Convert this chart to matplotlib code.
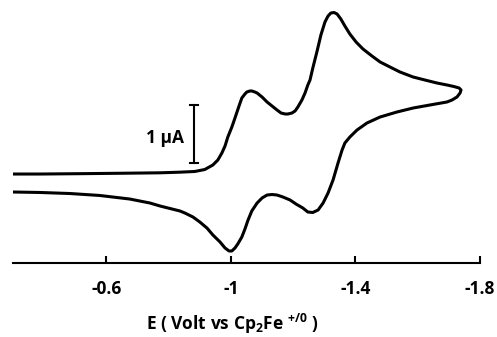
import numpy as np
import matplotlib
matplotlib.use("Agg")
import matplotlib.pyplot as plt

plt.rcParams['font.family'] = ['Open Sans', 'DejaVu Sans']
plt.rcParams['mathtext.fontset'] = 'custom'
plt.rcParams['mathtext.bf'] = 'Open Sans:bold'
plt.rcParams['mathtext.rm'] = 'Open Sans:bold'

# cyclic voltammogram: potential (V) and current (uA)
# forward (cathodic) scan
fwd_E = [-0.300, -0.386, -0.515, -0.643, -0.772, -0.836, -0.884, -0.916, -0.942,
         -0.958, -0.971, -0.981, -0.990, -1.003, -1.013, -1.026, -1.035, -1.045,
         -1.051, -1.061, -1.067, -1.077, -1.084, -1.100, -1.116, -1.132, -1.148,
         -1.161, -1.174, -1.183, -1.196, -1.206, -1.215, -1.228, -1.238, -1.247,
         -1.254, -1.263, -1.276, -1.289, -1.302, -1.312, -1.321, -1.331, -1.341,
         -1.353, -1.366, -1.382, -1.402, -1.424, -1.453, -1.479, -1.511, -1.543,
         -1.585, -1.623, -1.662, -1.694, -1.716, -1.733, -1.739]
fwd_i = [1.534, 1.534, 1.540, 1.547, 1.555, 1.566, 1.578, 1.612, 1.690, 1.776,
         1.897, 2.017, 2.172, 2.345, 2.500, 2.707, 2.845, 2.914, 2.948, 2.966,
         2.966, 2.948, 2.931, 2.862, 2.776, 2.707, 2.638, 2.586, 2.569, 2.569,
         2.586, 2.621, 2.690, 2.810, 2.931, 3.069, 3.155, 3.362, 3.638, 3.931,
         4.155, 4.259, 4.310, 4.319, 4.293, 4.207, 4.086, 3.948, 3.810, 3.690,
         3.569, 3.466, 3.379, 3.293, 3.207, 3.155, 3.103, 3.069, 3.043, 3.017,
         2.983]
# reverse (anodic) scan
rev_E = [-1.736, -1.726, -1.710, -1.694, -1.639, -1.585, -1.533, -1.479, -1.437,
         -1.405, -1.382, -1.366, -1.357, -1.344, -1.328, -1.312, -1.296, -1.280,
         -1.263, -1.247, -1.231, -1.209, -1.190, -1.167, -1.148, -1.132, -1.116,
         -1.100, -1.084, -1.067, -1.055, -1.045, -1.035, -1.022, -1.013, -1.003,
         -0.994, -0.981, -0.965, -0.942, -0.923, -0.900, -0.878, -0.852, -0.836,
         -0.804, -0.772, -0.740, -0.675, -0.579, -0.483, -0.386, -0.300]
rev_i = [2.931, 2.862, 2.810, 2.776, 2.724, 2.672, 2.603, 2.517, 2.414, 2.293,
         2.172, 2.069, 1.948, 1.724, 1.431, 1.207, 1.034, 0.914, 0.871, 0.879,
         0.948, 1.017, 1.086, 1.138, 1.172, 1.181, 1.172, 1.121, 1.034, 0.897,
         0.741, 0.586, 0.448, 0.328, 0.259, 0.207, 0.207, 0.259, 0.362, 0.483,
         0.603, 0.707, 0.793, 0.862, 0.897, 0.940, 0.983, 1.034, 1.103, 1.164,
         1.198, 1.216, 1.224]

tick_pos = [-0.6, -1.0, -1.4, -1.8]
tick_lab = ['-0.6', '-1', '-1.4', '-1.8']

fig = plt.figure(figsize=(4.97, 3.37), dpi=100)
ax = fig.add_axes([13 / 497, 1 - 263 / 337, 467 / 497, 258 / 337])

ax.plot(fwd_E + rev_E, fwd_i + rev_i, color='black', lw=2.2,
        solid_joinstyle='round', solid_capstyle='round')

ax.set_xlim(-0.3, -1.8)
ax.set_ylim(0, 258 / 58)
ax.set_xticks(tick_pos)
ax.set_xticklabels(tick_lab, fontweight='bold', fontsize=12.5)
ax.tick_params(axis='x', direction='in', length=5, width=1.5, pad=12)
ax.set_yticks([])
for side in ['top', 'right', 'left']:
    ax.spines[side].set_visible(False)
ax.spines['bottom'].set_linewidth(1.5)

# 1 uA scale bar
bar_x = -0.881
bar_lo = 1.724
ax.plot([bar_x, bar_x], [bar_lo, bar_lo + 1.0], color='black', lw=1.5)
ax.plot([bar_x - 0.013, bar_x + 0.013], [bar_lo, bar_lo], color='black', lw=1.5)
ax.plot([bar_x - 0.013, bar_x + 0.013], [bar_lo + 1, bar_lo + 1], color='black', lw=1.5)
ax.text(-0.849, 2.069, '1 \u03bcA', ha='right', va='baseline',
        fontsize=12.5, fontweight='bold')

fig.text(232 / 497, 1 - 330 / 337, r'E ( Volt vs Cp$_\mathbf{2}$Fe $^{\mathbf{+/0}}$ )',
         ha='center', va='baseline', fontsize=12.5, fontweight='bold')

fig.savefig('out.png', dpi=100)
